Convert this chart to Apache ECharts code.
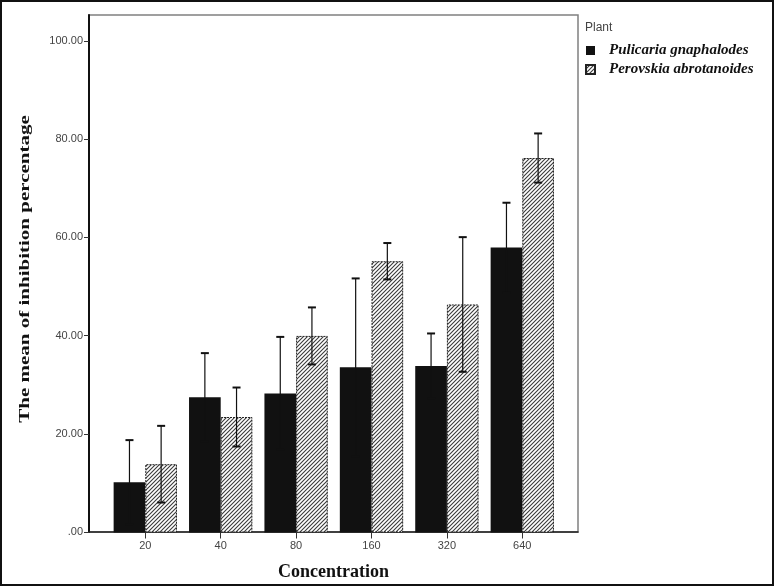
<!DOCTYPE html>
<html>
<head>
<meta charset="utf-8">
<script src="https://cdn.jsdelivr.net/npm/echarts@6/dist/echarts.min.js"></script>
<style>
html,body{margin:0;padding:0;background:#fff;}
#chart{width:774px;height:586px;}
</style>
</head>
<body>
<div id="chart"></div>
<script>
// ---- data ----
const concentrations = ['20', '40', '80', '160', '320', '640'];
const seriesNames = ['Pulicaria gnaphalodes', 'Perovskia abrotanoides'];
const pulicariaMean = [10.2, 27.5, 28.3, 33.6, 33.9, 58.0];
const pulicariaErr  = [8.6, 9.0, 11.5, 18.1, 6.6, 9.1];
const perovskiaMean = [13.9, 23.5, 40.0, 55.2, 46.4, 76.2];
const perovskiaErr  = [7.8, 6.0, 5.8, 3.7, 13.7, 5.0];
const yTicks = [0, 20, 40, 60, 80, 100];

const Y_MAX = 105.3;
const BAR_FRAC = 0.42;

// hatch pattern
function makeHatch() {
  const c = document.createElement('canvas');
  c.width = 4; c.height = 4;
  const g = c.getContext('2d');
  g.fillStyle = '#ffffff';
  g.fillRect(0, 0, 4, 4);
  g.strokeStyle = '#3a3a3a';
  g.lineWidth = 1.1;
  g.beginPath();
  g.moveTo(-1, 5); g.lineTo(5, -1);
  g.moveTo(-1, 1); g.lineTo(1, -1);
  g.moveTo(3, 5); g.lineTo(5, 3);
  g.stroke();
  return c;
}
const hatch = { image: makeHatch(), repeat: 'repeat' };

function errData(means, errs) {
  return means.map((m, i) => [i, m - errs[i], m + errs[i]]);
}

function errRender(side) {
  return function (params, api) {
    const i = api.value(0);
    const lo = api.coord([i, api.value(1)]);
    const hi = api.coord([i, api.value(2)]);
    const bw = api.size([1, 0])[0] * BAR_FRAC;
    const x = lo[0] + side * bw / 2;
    const cap = 4;
    return {
      type: 'group',
      children: [
        { type: 'line', shape: { x1: x, y1: lo[1], x2: x, y2: hi[1] }, style: { stroke: '#111', lineWidth: 1.2 } },
        { type: 'line', shape: { x1: x - cap, y1: lo[1], x2: x + cap, y2: lo[1] }, style: { stroke: '#111', lineWidth: 2 } },
        { type: 'line', shape: { x1: x - cap, y1: hi[1], x2: x + cap, y2: hi[1] }, style: { stroke: '#111', lineWidth: 2 } }
      ]
    };
  };
}

const chart = echarts.init(document.getElementById('chart'), null, { renderer: 'canvas' });

const option = {
  animation: false,
  backgroundColor: '#ffffff',
  grid: [
    { left: 89, top: 15, width: 489, height: 517.5, show: true, borderColor: '#808080', borderWidth: 1.5, backgroundColor: 'transparent' },
    { left: 107.6, top: 15, width: 452.4, height: 517.5 }
  ],
  xAxis: [
    {
      gridIndex: 0, type: 'value', min: 0, max: 1,
      axisLine: { show: true, lineStyle: { color: '#222', width: 1.5 } },
      axisTick: { show: false }, axisLabel: { show: false }, splitLine: { show: false },
      name: 'Concentration', nameLocation: 'middle', nameGap: 31,
      nameTextStyle: { fontFamily: 'Liberation Serif', fontWeight: 'bold', fontSize: 18, color: '#111' }
    },
    {
      gridIndex: 1, type: 'category', data: concentrations,
      axisLine: { show: false },
      axisTick: { show: true, alignWithLabel: true, length: 6, lineStyle: { color: '#333', width: 1 } },
      axisLabel: { fontFamily: 'Liberation Sans', fontSize: 11, color: '#444', margin: 8 },
      splitLine: { show: false }
    }
  ],
  yAxis: [
    {
      gridIndex: 0, type: 'value', min: 0, max: Y_MAX,
      axisLine: { show: true, lineStyle: { color: '#111', width: 2 } },
      axisTick: { show: true, length: 5, customValues: yTicks, lineStyle: { color: '#333' } },
      axisLabel: {
        customValues: yTicks, fontFamily: 'Liberation Sans', fontSize: 11, color: '#444', margin: 6,
        formatter: v => v.toFixed(2).replace(/^0/, '')
      },
      splitLine: { show: false }
    },
    {
      gridIndex: 1, type: 'value', min: 0, max: Y_MAX, show: false,
      splitLine: { show: false }
    }
  ],
  legend: {
    orient: 'vertical', left: 585, top: 43, padding: 0,
    itemWidth: 9, itemHeight: 9, itemGap: 4,
    icon: 'rect',
    data: seriesNames,
    textStyle: { fontFamily: 'Liberation Serif', fontWeight: 'bold', fontStyle: 'italic', fontSize: 15, lineHeight: 15, color: '#111', padding: [0, 0, 0, 9] }
  },
  graphic: [
    { type: 'rect', silent: true, z: 100, shape: { x: 1, y: 1, width: 772, height: 584 }, style: { fill: 'none', stroke: '#111', lineWidth: 2 } },
    { type: 'text', left: 585, top: 22, style: { text: 'Plant', font: '12px "Liberation Sans"', fill: '#444' } },
    { type: 'text', x: 25, y: 269, rotation: Math.PI / 2, scaleX: 1.4, scaleY: 1,
      style: { text: 'The mean of inhibition percentage', font: 'bold 15px "Liberation Serif"', fill: '#111', align: 'center', verticalAlign: 'middle' } }
  ],
  series: [
    {
      name: seriesNames[0], type: 'bar', xAxisIndex: 1, yAxisIndex: 1,
      data: pulicariaMean, barWidth: (BAR_FRAC * 100) + '%', barGap: '0%',
      itemStyle: { color: '#111' }
    },
    {
      name: seriesNames[1], type: 'bar', xAxisIndex: 1, yAxisIndex: 1,
      data: perovskiaMean, barWidth: (BAR_FRAC * 100) + '%', barGap: '0%',
      itemStyle: { color: hatch, borderColor: '#222', borderWidth: 1, borderType: [2, 1] }
    },
    {
      type: 'custom', xAxisIndex: 1, yAxisIndex: 1, z: 10,
      data: errData(pulicariaMean, pulicariaErr), renderItem: errRender(-1),
      encode: { x: 0, y: [1, 2] }
    },
    {
      type: 'custom', xAxisIndex: 1, yAxisIndex: 1, z: 10,
      data: errData(perovskiaMean, perovskiaErr), renderItem: errRender(1),
      encode: { x: 0, y: [1, 2] }
    }
  ]
};
chart.setOption(option);
</script>
</body>
</html>
